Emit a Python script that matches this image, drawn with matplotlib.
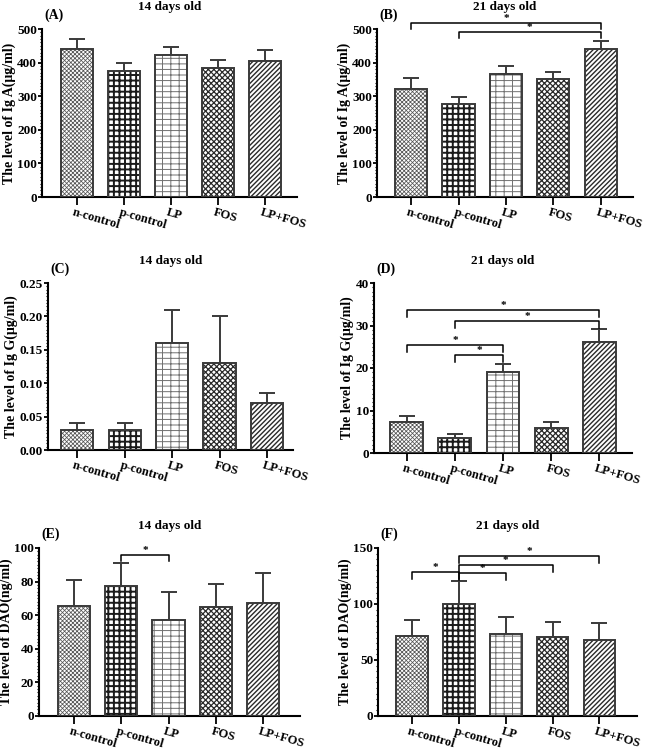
import matplotlib
matplotlib.use('Agg')
import matplotlib.pyplot as plt
from matplotlib.ticker import MultipleLocator, AutoMinorLocator, FormatStrFormatter
import matplotlib.transforms as mtransforms

plt.rcParams['font.family'] = ['Liberation Serif', 'DejaVu Serif']
plt.rcParams['font.weight'] = 'bold'
plt.rcParams['axes.labelweight'] = 'bold'
plt.rcParams['axes.titleweight'] = 'bold'

groups = ['n-control', 'p-control', 'LP', 'FOS', 'LP+FOS']

# means and upper error (SD)
iga14 = [439, 376, 422, 385, 406]
iga14_err = [30, 22, 23, 23, 32]
iga21 = [321, 277, 367, 350, 439]
iga21_err = [32, 22, 24, 23, 25]
igg14 = [0.03, 0.03, 0.16, 0.13, 0.07]
igg14_err = [0.01, 0.01, 0.05, 0.07, 0.015]
igg21 = [7.2, 3.6, 19.0, 6.0, 26.2]
igg21_err = [1.4, 0.9, 1.9, 1.2, 3.0]
dao14 = [65.6, 77.1, 57.0, 65.0, 67.0]
dao14_err = [15.1, 13.9, 16.8, 13.7, 17.9]
dao21 = [71.6, 99.6, 73.4, 70.7, 67.7]
dao21_err = [13.7, 20.6, 14.6, 13.4, 15.5]

# significance brackets: (from, to, height)
sig_b = [(0, 4, 517), (1, 4, 490)]
sig_d = [(0, 4, 33.6), (1, 4, 31.0), (0, 2, 25.3), (1, 2, 23.0)]
sig_e = [(1, 2, 95.8)]
sig_f = [(0, 1, 128.3), (1, 2, 127.5), (1, 3, 134.5), (1, 4, 143.0)]

# hatch, hatch colour, hatch linewidth
hatches = [('xxxxxxxx', '#555555', 0.55),
           ('+++', '#1a1a1a', 1.4),
           ('---||', '#707070', 0.7),
           ('xxxxxx', '#2a2a2a', 0.9),
           ('///////', '#2a2a2a', 1.0)]
edge = '#3a3a3a'

W, H = 647, 752
fig = plt.figure(figsize=(W / 100, H / 100), dpi=100)


def make_ax(left, right, top, bottom):
    return fig.add_axes([left / W, 1 - bottom / H, (right - left) / W, (bottom - top) / H])


def panel(ax, vals, errs, ymax, major, fmt, ylabel, title, letter, xlim, sig=None, drop=0):
    x = list(range(len(groups)))
    for i in x:
        h, hc, hlw = hatches[i]
        with plt.rc_context({'hatch.linewidth': hlw}):
            b = ax.bar(i, vals[i], width=0.68, color='white', edgecolor=hc,
                       hatch=h, linewidth=0, zorder=2)
        for p in b:
            if hasattr(p, 'set_hatch_linewidth'):
                p.set_hatch_linewidth(hlw)
    ax.bar(x, vals, width=0.68, color='none', edgecolor=edge, linewidth=1.4, zorder=3)
    ax.errorbar(x, vals, yerr=[[0] * len(vals), errs], fmt='none', ecolor=edge,
                elinewidth=1.4, capsize=5.5, capthick=1.4, zorder=1)
    ax.set_xlim(*xlim)
    ax.set_ylim(0, ymax)
    ax.yaxis.set_major_locator(MultipleLocator(major))
    ax.yaxis.set_minor_locator(AutoMinorLocator(10))
    ax.yaxis.set_major_formatter(FormatStrFormatter(fmt))
    ax.spines['top'].set_visible(False)
    ax.spines['right'].set_visible(False)
    ax.spines['left'].set_linewidth(1.5)
    ax.spines['bottom'].set_linewidth(1.5)
    ax.tick_params(axis='y', which='major', length=3, width=1.3, labelsize=9.5, pad=0.5)
    ax.tick_params(axis='y', which='minor', length=1.8, width=0.8)
    ax.tick_params(axis='x', length=5.5, width=1.3, labelsize=9, pad=1)
    ax.set_xticks(x)
    ax.set_xticklabels(groups, rotation=-16, ha='left', va='top', rotation_mode='anchor')
    shift = mtransforms.ScaledTranslation(-2 / 72, 0, fig.dpi_scale_trans)
    for lab in ax.get_xticklabels():
        lab.set_transform(lab.get_transform() + shift)
    ax.set_ylabel(ylabel, fontsize=10, labelpad=1)
    ax.set_title(title, fontsize=9.5, pad=14)
    ax.text(0.01, 1.04, letter, transform=ax.transAxes, fontsize=10,
            ha='left', va='bottom')
    if sig:
        for i, j, y in sig:
            ax.plot([i, i, j, j], [y - drop, y, y, y - drop], color='black',
                    linewidth=1.1, clip_on=False, zorder=4)
            ax.text((i + j) / 2, y, '*', ha='center', va='bottom', fontsize=8,
                    clip_on=False)


axA = make_ax(42, 297, 29, 197)
panel(axA, iga14, iga14_err, 500, 100, '%d', 'The level of Ig A(μg/ml)',
      '14 days old', '(A)', (-0.75, 4.68))
axB = make_ax(377, 633, 29, 197)
panel(axB, iga21, iga21_err, 500, 100, '%d', 'The level of Ig A(μg/ml)',
      '21 days old', '(B)', (-0.72, 4.68), sig_b, 17)
axC = make_ax(48, 293, 283, 450)
panel(axC, igg14, igg14_err, 0.25, 0.05, '%.2f', 'The level of Ig G(μg/ml)',
      '14 days old', '(C)', (-0.62, 4.55))
axD = make_ax(374, 632, 283, 453)
panel(axD, igg21, igg21_err, 40, 10, '%d', 'The level of Ig G(μg/ml)',
      '21 days old', '(D)', (-0.68, 4.68), sig_d, 1.6)
axE = make_ax(39, 300, 548, 716)
panel(axE, dao14, dao14_err, 100, 20, '%d', 'The level of DAO(ng/ml)',
      '14 days old', '(E)', (-0.74, 4.78), sig_e, 3.8)
axF = make_ax(378, 637, 548, 716)
panel(axF, dao21, dao21_err, 150, 50, '%d', 'The level of DAO(ng/ml)',
      '21 days old', '(F)', (-0.72, 4.8), sig_f, 6)

fig.savefig('out.png', dpi=100)
